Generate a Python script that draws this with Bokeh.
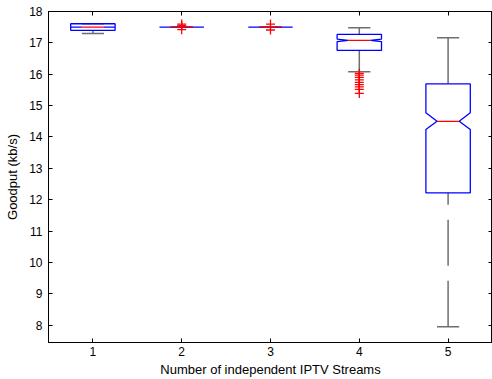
from bokeh.plotting import figure
from bokeh.models import FixedTicker, LinearAxis
from bokeh.embed import file_html
from bokeh.resources import INLINE

# ---- data ----
groups = [1, 2, 3, 4, 5]
q1 = [17.40, 17.50, 17.50, 16.76, 12.22]
median = [17.50, 17.50, 17.50, 17.08, 14.50]
q3 = [17.61, 17.50, 17.50, 17.27, 15.69]
notch_lo = [17.50, 17.50, 17.50, 17.04, 14.24]
notch_hi = [17.50, 17.50, 17.50, 17.12, 14.77]
whisker_lo = [17.30, 17.50, 17.50, 16.08, 7.95]
whisker_hi = [17.61, 17.50, 17.50, 17.48, 17.16]
outlier_group = [2, 2, 2, 3, 3, 4, 4, 4, 4, 4, 4, 4, 4, 4]
outlier_value = [17.60, 17.55, 17.42, 17.60, 17.41,
                 16.03, 15.97, 15.90, 15.82, 15.74, 15.67, 15.60, 15.52, 15.39]
x_ticks = [1, 2, 3, 4, 5]
y_ticks = [8, 9, 10, 11, 12, 13, 14, 15, 16, 17, 18]

# ---- style ----
HALF = 0.25      # half box width
NHALF = 0.125    # notch / cap half width
FONT = "Liberation Sans"
WHISK = "#6e6e6e"

p = figure(width=492, height=379, x_range=(0.5, 5.5), y_range=(7.45, 18.0),
           output_backend="svg", toolbar_location=None,
           min_border_left=48, min_border_right=0, min_border_top=11,
           min_border_bottom=37)
p.grid.visible = False
p.outline_line_color = "black"
p.background_fill_color = "white"
p.border_fill_color = "white"

# notched boxes
xs, ys = [], []
for g, a, nl, m, nh, b in zip(groups, q1, notch_lo, median, notch_hi, q3):
    xs.append([g - HALF, g - HALF, g - NHALF, g - HALF, g - HALF,
               g + HALF, g + HALF, g + NHALF, g + HALF, g + HALF])
    ys.append([a, nl, m, nh, b, b, nh, m, nl, a])

# whiskers (drawn from the whisker end toward the box)
p.segment(x0=groups, y0=whisker_lo, x1=groups, y1=q1, line_color=WHISK,
          line_width=1.5, line_dash="46 15")
p.segment(x0=groups, y0=whisker_hi, x1=groups, y1=q3, line_color=WHISK,
          line_width=1.5, line_dash="46 15")
# caps
p.segment(x0=[g - NHALF for g in groups], y0=whisker_lo,
          x1=[g + NHALF for g in groups], y1=whisker_lo,
          line_color=WHISK, line_width=1.5)
p.segment(x0=[g - NHALF for g in groups], y0=whisker_hi,
          x1=[g + NHALF for g in groups], y1=whisker_hi,
          line_color=WHISK, line_width=1.5)

p.patches(xs=xs, ys=ys, fill_color=None, line_color="#0000ff", line_width=1.3)

# medians
p.segment(x0=[g - NHALF for g in groups], y0=median,
          x1=[g + NHALF for g in groups], y1=median,
          line_color="#ff0000", line_width=1.3)

# outliers
p.scatter(x=outlier_group, y=outlier_value, marker="cross", size=9,
          line_color="#ff0000", line_width=1.3)

# axes
for ax in (p.xaxis[0], p.yaxis[0]):
    ax.major_tick_in = 4
    ax.major_tick_out = 0
    ax.minor_tick_line_color = None
    ax.axis_line_color = "black"
    ax.axis_line_width = 1
    ax.major_tick_line_color = "black"
    ax.major_label_text_font = FONT
    ax.major_label_text_font_size = "12px"
    ax.major_label_text_color = "black"
    ax.axis_label_text_font = FONT
    ax.axis_label_text_font_size = "13px"
    ax.axis_label_text_font_style = "normal"
    ax.axis_label_text_color = "black"

p.xaxis.ticker = FixedTicker(ticks=x_ticks)
p.yaxis.ticker = FixedTicker(ticks=y_ticks)
p.xaxis.axis_label = "Number of independent IPTV Streams"
p.yaxis.axis_label = "Goodput (kb/s)"
p.xaxis.major_label_standoff = 4
p.xaxis.axis_label_standoff = 3
p.yaxis.major_label_standoff = 6
p.yaxis.axis_label_standoff = 6

# mirrored tick marks on top and right (no labels)
top = LinearAxis(ticker=FixedTicker(ticks=x_ticks), major_tick_in=4, major_tick_out=0,
                 minor_tick_line_color=None, major_label_text_font_size="0px",
                 major_label_text_color=None, major_label_standoff=0,
                 axis_line_color="black")
right = LinearAxis(ticker=FixedTicker(ticks=y_ticks), major_tick_in=4, major_tick_out=0,
                   minor_tick_line_color=None, major_label_text_font_size="0px",
                   major_label_text_color=None, major_label_standoff=0,
                   axis_line_color="black")
p.add_layout(top, "above")
p.add_layout(right, "right")

open("out.html", "w").write(file_html(p, INLINE))
